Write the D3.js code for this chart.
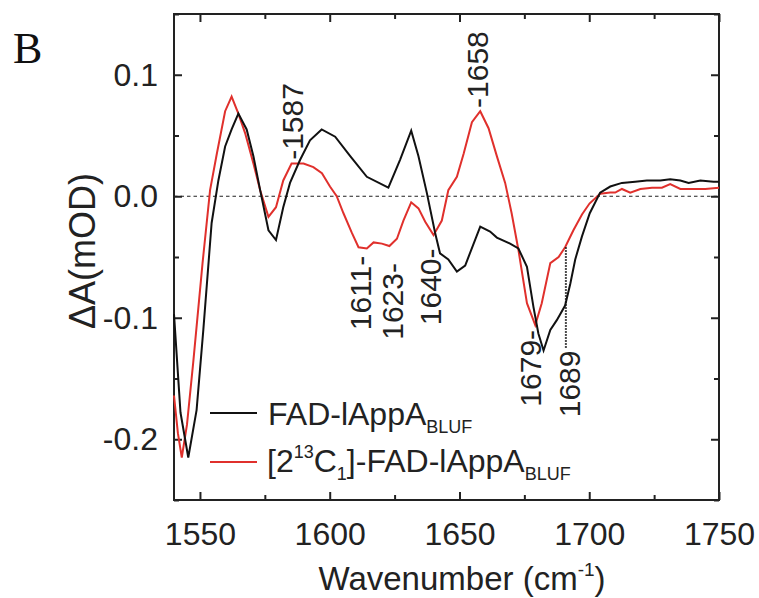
<!DOCTYPE html>
<html>
<head>
<meta charset="utf-8">
<script src="https://cdn.jsdelivr.net/npm/d3@7"></script>
<style>
  body { margin: 0; background: #fff; }
  svg { display: block; font-family: "Liberation Sans", Arial, sans-serif; }
</style>
</head>
<body>
<svg id="chart"></svg>
<script>
var width = 759;
var height = 598;
var margin = { top: 14, right: 40, bottom: 98, left: 174 };

// FAD-lAppA(BLUF) spectrum: wavenumber / deltaA pairs
var blackWn = [1540, 1542.5, 1545.5, 1548.7, 1551.3, 1554.5, 1557.1, 1559.7, 1562.2, 1564.8,
  1568, 1570.6, 1573.2, 1576.4, 1579.3, 1582.1, 1584.7, 1588.6, 1592.4, 1596.9,
  1602.1, 1607.9, 1614.3, 1622.6, 1627.1, 1631.4, 1634.2, 1637.4, 1640.6, 1642.5,
  1645.7, 1649, 1652.2, 1658, 1661.8, 1664.4, 1669.5, 1672.7, 1676, 1678.5,
  1680.4, 1682.4, 1685, 1687.5, 1690.7, 1692.7, 1694.6, 1697.2, 1700.2, 1704.2,
  1708.1, 1712.6, 1717.7, 1722.2, 1727.4, 1731.2, 1735.1, 1738.3, 1742.8, 1747.9, 1750];
var blackDA = [-0.097, -0.178, -0.215, -0.176, -0.110, -0.022, 0.013, 0.041, 0.055, 0.068,
  0.055, 0.033, 0.005, -0.028, -0.036, -0.009, 0.011, 0.030, 0.046, 0.055,
  0.049, 0.033, 0.016, 0.007, 0.030, 0.054, 0.033, 0.003, -0.030, -0.047,
  -0.052, -0.062, -0.057, -0.025, -0.029, -0.034, -0.039, -0.043, -0.058, -0.091,
  -0.113, -0.127, -0.110, -0.102, -0.090, -0.072, -0.052, -0.033, -0.014, 0.003,
  0.008, 0.011, 0.012, 0.013, 0.013, 0.014, 0.013, 0.011, 0.013, 0.012, 0.012];

// [2-13C1]-FAD-lAppA(BLUF) spectrum
var redWn = [1540, 1541.5, 1543, 1545, 1547.4, 1551, 1553.9, 1556.5, 1559.7, 1562.2,
  1564.8, 1567.4, 1570.6, 1573.2, 1576.4, 1579.3, 1582.1, 1585.3, 1589.9, 1593.7,
  1597, 1600.1, 1602.7, 1605.3, 1608.5, 1611.1, 1614.3, 1616.9, 1620.1, 1623,
  1625.9, 1628.4, 1631.4, 1634.2, 1636.8, 1640, 1643.2, 1645.7, 1649, 1651.6,
  1654.8, 1658, 1661.2, 1664.4, 1667.6, 1670.1, 1672.7, 1676, 1679.2, 1681.7,
  1685, 1688.2, 1690.7, 1693.9, 1697.2, 1700.1, 1704.2, 1708.1, 1710, 1712.6,
  1715.8, 1719.7, 1724.2, 1728, 1731.2, 1735.1, 1740.2, 1744.7, 1750];
var redDA = [-0.164, -0.195, -0.215, -0.188, -0.137, -0.055, 0.005, 0.035, 0.070, 0.082,
  0.068, 0.052, 0.027, 0.005, -0.017, -0.009, 0.013, 0.027, 0.027, 0.024,
  0.019, 0.008, 0.000, -0.014, -0.030, -0.042, -0.043, -0.038, -0.039, -0.041,
  -0.035, -0.020, -0.005, -0.010, -0.021, -0.032, -0.020, 0.005, 0.016, 0.035,
  0.061, 0.070, 0.056, 0.033, 0.011, -0.014, -0.044, -0.088, -0.106, -0.088,
  -0.055, -0.050, -0.042, -0.028, -0.015, -0.006, 0.002, 0.003, 0.003, 0.006,
  0.003, 0.006, 0.007, 0.007, 0.010, 0.006, 0.006, 0.006, 0.007];

var xTicks = [1550, 1600, 1650, 1700, 1750];
var yTicks = [-0.2, -0.1, 0.0, 0.1];
var yTickLabels = ["-0.2", "-0.1", "0.0", "0.1"];

// peak labels (rotated); anchor point given in data units
var peakText = ["-1587", "-1658", "1611-", "1623-", "1640-", "1679-", "1689"];
var peakWn = [1589.7, 1661.0, 1615.9, 1628.3, 1642.9, 1681.5, 1696.5];
var peakDA = [0.030, 0.0727, -0.049, -0.055, -0.043, -0.110, -0.127];
var peakAnchor = ["start", "start", "end", "end", "end", "end", "end"];

// dotted marker at 1689
var markWn = 1691;
var markDA = [-0.042, -0.126];

var svg = d3.select("#chart").attr("width", width).attr("height", height);

var x = d3.scaleLinear().domain([1540, 1750]).range([margin.left, width - margin.right]);
var y = d3.scaleLinear().domain([-0.25, 0.15]).range([height - margin.bottom, margin.top]);

var minorX = d3.range(1550, 1751, 25);
var minorY = d3.range(-0.25, 0.151, 0.05).map(function (d) { return +d.toFixed(2); });

// zero line
svg.append("line")
  .attr("x1", x(1540)).attr("x2", x(1750))
  .attr("y1", y(0)).attr("y2", y(0))
  .attr("stroke", "#222").attr("stroke-width", 1.2)
  .attr("stroke-dasharray", "3.5,3");

// axes (inward ticks, mirrored)
function axisGroup(axis, tx, ty) {
  var g = svg.append("g").attr("transform", "translate(" + tx + "," + ty + ")").call(axis);
  g.select(".domain").remove();
  g.selectAll(".tick line").attr("stroke", "#222").attr("stroke-width", 2);
  return g;
}
var bottomAxis = axisGroup(d3.axisBottom(x).tickValues(minorX).tickSize(-8).tickPadding(22)
  .tickFormat(function (d) { return xTicks.indexOf(d) >= 0 ? d : ""; }), 0, y(-0.25));
bottomAxis.selectAll(".tick").filter(function (d) { return xTicks.indexOf(d) < 0; })
  .select("line").attr("y2", -5);
bottomAxis.selectAll("text").attr("font-size", 32).attr("fill", "#222")
  .attr("font-family", "Liberation Sans");

var topAxis = axisGroup(d3.axisTop(x).tickValues(minorX).tickSize(-8).tickFormat(""), 0, y(0.15));
topAxis.selectAll(".tick").filter(function (d) { return xTicks.indexOf(d) < 0; })
  .select("line").attr("y2", 5);

function majorYIndex(d) {
  for (var i = 0; i < yTicks.length; i++) if (Math.abs(yTicks[i] - d) < 1e-6) return i;
  return -1;
}
var leftAxis = axisGroup(d3.axisLeft(y).tickValues(minorY).tickSize(-8).tickPadding(16)
  .tickFormat(function (d) { var i = majorYIndex(d); return i >= 0 ? yTickLabels[i] : ""; }), x(1540), 0);
leftAxis.selectAll(".tick").filter(function (d) { return majorYIndex(d) < 0; })
  .select("line").attr("x2", 5);
leftAxis.selectAll("text").attr("font-size", 32).attr("fill", "#222")
  .attr("font-family", "Liberation Sans");

var rightAxis = axisGroup(d3.axisRight(y).tickValues(minorY).tickSize(-8).tickFormat(""), x(1750), 0);
rightAxis.selectAll(".tick").filter(function (d) { return majorYIndex(d) < 0; })
  .select("line").attr("x2", -5);

// frame
svg.append("rect")
  .attr("x", x(1540)).attr("y", y(0.15))
  .attr("width", x(1750) - x(1540)).attr("height", y(-0.25) - y(0.15))
  .attr("fill", "none").attr("stroke", "#222").attr("stroke-width", 2);

// spectra
var line = d3.line().x(function (d) { return x(d[0]); }).y(function (d) { return y(d[1]); });
svg.append("path")
  .datum(redWn.map(function (w, i) { return [w, redDA[i]]; }))
  .attr("d", line).attr("fill", "none")
  .attr("stroke", "#e0302c").attr("stroke-width", 2);
svg.append("path")
  .datum(blackWn.map(function (w, i) { return [w, blackDA[i]]; }))
  .attr("d", line).attr("fill", "none")
  .attr("stroke", "#111").attr("stroke-width", 2);

// dotted marker
svg.append("line")
  .attr("x1", x(markWn)).attr("x2", x(markWn))
  .attr("y1", y(markDA[0])).attr("y2", y(markDA[1]))
  .attr("stroke", "#111").attr("stroke-width", 2)
  .attr("stroke-dasharray", "1.5,1.5");

// peak labels
peakText.forEach(function (t, i) {
  svg.append("text")
    .attr("transform", "translate(" + x(peakWn[i]) + "," + y(peakDA[i]) + ") rotate(-90)")
    .attr("text-anchor", peakAnchor[i])
    .attr("font-size", 30).attr("fill", "#222")
    .text(t);
});

// legend
var legend = svg.append("g");
legend.append("line").attr("x1", 210).attr("x2", 257).attr("y1", 413).attr("y2", 413)
  .attr("stroke", "#111").attr("stroke-width", 2);
legend.append("line").attr("x1", 210).attr("x2", 257).attr("y1", 462).attr("y2", 462)
  .attr("stroke", "#e0302c").attr("stroke-width", 2);

var t1 = legend.append("text").attr("x", 268).attr("y", 425).attr("font-size", 32).attr("fill", "#222");
t1.append("tspan").text("FAD-lAppA");
t1.append("tspan").attr("font-size", 18).attr("dy", 8).text("BLUF");

var t2 = legend.append("text").attr("x", 267).attr("y", 472).attr("font-size", 32).attr("fill", "#222");
t2.append("tspan").text("[2");
t2.append("tspan").attr("font-size", 18).attr("dy", -14).text("13");
t2.append("tspan").attr("dy", 14).text("C");
t2.append("tspan").attr("font-size", 18).attr("dy", 8).text("1");
t2.append("tspan").attr("dy", -8).text("]-FAD-lAppA");
t2.append("tspan").attr("font-size", 18).attr("dy", 8).text("BLUF");

// axis titles
var xt = svg.append("text").attr("x", 462).attr("y", 590)
  .attr("text-anchor", "middle").attr("font-size", 33).attr("fill", "#222");
xt.append("tspan").text("Wavenumber (cm");
xt.append("tspan").attr("font-size", 19).attr("dy", -14).text("-1");
xt.append("tspan").attr("dy", 14).text(")");

svg.append("text")
  .attr("transform", "translate(95," + 251 + ") rotate(-90)")
  .attr("text-anchor", "middle").attr("font-size", 36).attr("fill", "#222")
  .text("ΔA(mOD)");

// panel letter
svg.append("text").attr("x", 13).attr("y", 63)
  .attr("font-family", "Liberation Serif").attr("font-size", 44).attr("fill", "#111")
  .text("B");
</script>
</body>
</html>
